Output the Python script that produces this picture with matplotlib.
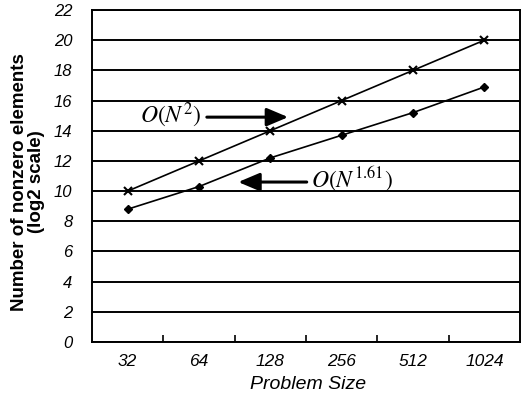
import numpy as np
import matplotlib.pyplot as plt
from matplotlib.ticker import FixedLocator, NullFormatter

plt.rcParams['mathtext.fontset'] = 'stix'

# Data
sizes = ['32', '64', '128', '256', '512', '1024']
n2_log2 = [10, 12, 14, 16, 18, 20]
n161_log2 = [8.8, 10.3, 12.2, 13.7, 15.2, 16.9]

xlabel = 'Problem Size'
ylabel = 'Number of nonzero elements\n(log2 scale)'

fig = plt.figure(figsize=(5.22, 4.05), dpi=100)
ax = fig.add_axes([92 / 522, 63 / 405, 428 / 522, 332 / 405])

x = np.arange(len(sizes))

# Horizontal grid
ax.set_ylim(0, 22)
ax.set_yticks(np.arange(0, 23, 2))
ax.grid(True, axis='y', color='black', linewidth=1.4)
ax.set_axisbelow(True)

# Series
ax.plot(x, n2_log2, '-', color='black', linewidth=1.2,
        marker='x', markersize=6, markeredgewidth=1.5)
ax.plot(x, n161_log2, '-', color='black', linewidth=1.2,
        marker='D', markersize=4)

# Category axis: ticks between categories, labels at centres
ax.set_xlim(-0.5, len(sizes) - 0.5)
ax.xaxis.set_major_locator(FixedLocator(np.arange(0.5, len(sizes) - 0.5, 1)))
ax.xaxis.set_major_formatter(NullFormatter())
ax.xaxis.set_minor_locator(FixedLocator(x))
ax.set_xticklabels(sizes, minor=True)
ax.tick_params(axis='x', which='major', direction='in', length=5, width=1.2)
ax.tick_params(axis='x', which='minor', length=0, pad=9, labelsize=12.5)
for lab in ax.get_xticklabels(minor=True):
    lab.set_fontstyle('italic')
    lab.set_family('Liberation Sans')

ax.tick_params(axis='y', length=0, pad=14, labelsize=12)
for lab in ax.get_yticklabels():
    lab.set_fontstyle('italic')
    lab.set_family('Liberation Sans')

for side in ['left', 'bottom', 'top', 'right']:
    ax.spines[side].set_linewidth(1.4)

# Annotations
arrow = dict(arrowstyle='-|>,head_length=1.3,head_width=0.55',
             color='black', linewidth=2.2, shrinkA=0, shrinkB=0)
ax.text(0.6, 15.0, r'$O(N^{2})$', fontsize=17, va='center', ha='center')
ax.annotate('', xy=(2.25, 14.9), xytext=(1.11, 14.9), arrowprops=arrow)
ax.text(3.15, 10.8, r'$O(N^{1.61})$', fontsize=17, va='center', ha='center')
ax.annotate('', xy=(1.55, 10.6), xytext=(2.51, 10.6), arrowprops=arrow)

ax.set_xlabel(xlabel, fontsize=14, fontstyle='italic', family='Liberation Sans')
ax.xaxis.set_label_coords(0.505, -0.102)
ax.set_ylabel(ylabel, fontsize=13.5, fontweight='bold', family='Liberation Sans',
              linespacing=1.0)
ax.yaxis.set_label_coords(-0.11, 0.482)

plt.savefig('out.png', dpi=100)
